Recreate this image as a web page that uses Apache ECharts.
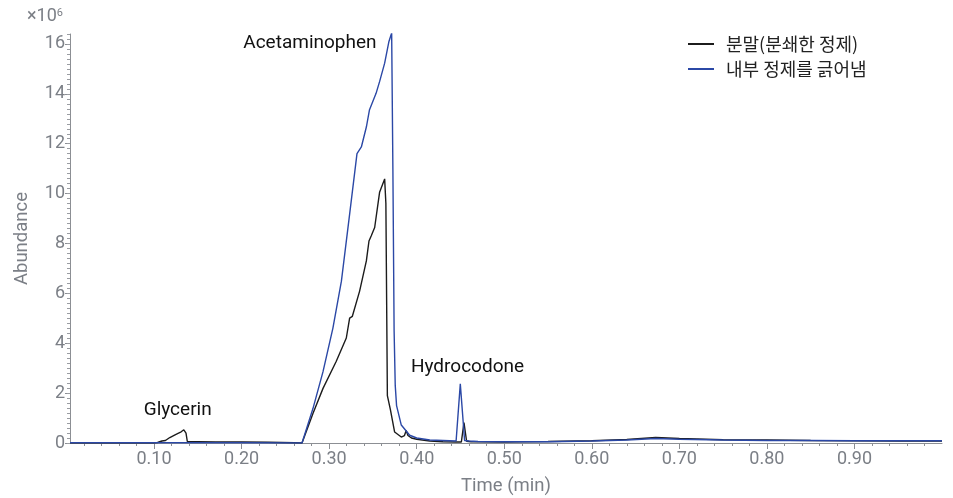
<!DOCTYPE html>
<html>
<head>
<meta charset="utf-8">
<script src="https://cdn.jsdelivr.net/npm/echarts@6/dist/echarts.min.js"></script>
<style>
  html, body { margin: 0; padding: 0; background: #fff; }
  #chart { width: 953px; height: 498px; }
</style>
</head>
<body>
<div id="chart"></div>
<script>
// values are in units of 10^6
const seriesNames = ['분말(분쇄한 정제)', '내부 정제를 긁어냄']

const powderTime = [0.004, 0.05, 0.100, 0.104, 0.109, 0.113, 0.118, 0.124, 0.128, 0.131, 0.134, 0.1365, 0.138, 0.142, 0.15, 0.17, 0.20, 0.23, 0.26,
  0.269, 0.2815, 0.293, 0.308, 0.3196, 0.3234, 0.3265, 0.3348, 0.3425, 0.3455, 0.348, 0.352, 0.3576, 0.3596, 0.3634, 0.3648, 0.3665, 0.3699, 0.3748,
  0.3824, 0.386, 0.388, 0.390, 0.394, 0.400, 0.415, 0.430, 0.445, 0.451, 0.454, 0.457, 0.462, 0.47, 0.50, 0.52, 0.55, 0.60, 0.64, 0.673, 0.70,
  0.75, 0.80, 0.85, 0.90, 0.95, 1.0]
const powderValue = [0, 0, 0, 0.02, 0.08, 0.1, 0.22, 0.33, 0.4, 0.45, 0.53, 0.4, 0.06, 0.05, 0.05, 0.04, 0.04, 0.03, 0.01,
  0, 1.18, 2.19, 3.27, 4.21, 5.01, 5.08, 6.09, 7.3, 8.1, 8.3, 8.64, 10.05, 9.99, 10.59, 9.6, 1.9, 1.35, 0.44,
  0.24, 0.3, 0.5, 0.3, 0.2, 0.15, 0.08, 0.05, 0.04, 0.04, 0.82, 0.07, 0.05, 0.05, 0.04, 0.05, 0.06, 0.09, 0.14, 0.22, 0.18,
  0.13, 0.12, 0.1, 0.09, 0.08, 0.08]

const scrapedTime = [0.004, 0.10, 0.20, 0.269, 0.2815, 0.293, 0.3043, 0.314, 0.3234, 0.3318, 0.3368, 0.3425, 0.346, 0.3536, 0.3576, 0.3634,
  0.3683, 0.3714, 0.3728, 0.3742, 0.3755, 0.377, 0.3824, 0.392, 0.40, 0.415, 0.43, 0.445, 0.4465, 0.4498, 0.4547, 0.46, 0.47, 0.50, 0.55,
  0.60, 0.64, 0.673, 0.70, 0.75, 0.80, 0.85, 0.90, 0.95, 1.0]
const scrapedValue = [0.01, 0.01, 0.01, 0, 1.38, 2.86, 4.61, 6.49, 9.18, 11.6, 11.87, 12.67, 13.35, 14.02, 14.49, 15.23,
  16.1, 16.44, 11, 4.5, 2.3, 1.5, 0.72, 0.31, 0.2, 0.12, 0.1, 0.08, 0.06, 2.37, 0.1, 0.08, 0.06, 0.05, 0.05,
  0.08, 0.12, 0.18, 0.15, 0.12, 0.1, 0.1, 0.09, 0.09, 0.09]

const xTicks = [0.1, 0.2, 0.3, 0.4, 0.5, 0.6, 0.7, 0.8, 0.9]
const yTicks = [0, 2, 4, 6, 8, 10, 12, 14, 16]

const peakNames = ['Acetaminophen', 'Glycerin', 'Hydrocodone']
const peakLabelAt = [[0.278, 16.04], [0.127, 1.32], [0.458, 3.05]]

const xMin = 0.004, xMax = 1.0, yMin = 0, yMax = 16.4

const xMinor = []
for (let i = 1; i < 50; i++) xMinor.push(+(i * 0.02).toFixed(2))
const yMinor = []
for (let i = 0; i <= 82; i++) yMinor.push(+(i * 0.2).toFixed(1))

const gray = '#7b7f86'
const font = 'Roboto, "Noto Sans CJK KR", sans-serif'

const chart = echarts.init(document.getElementById('chart'))
chart.setOption({
  animation: false,
  grid: { left: 70, right: 11, top: 34, bottom: 55, outerBoundsMode: 'none' },
  graphic: [{
    type: 'text',
    left: 27,
    top: 8,
    style: {
      text: '×10{s|6}',
      font: '18px ' + font,
      fill: gray,
      rich: { s: { fontSize: 11, verticalAlign: 'top', fill: gray, fontFamily: 'Roboto' } }
    }
  }],
  legend: {
    orient: 'vertical',
    left: 683,
    top: 30,
    icon: 'rect',
    itemWidth: 26,
    itemHeight: 2,
    itemGap: 7,
    textStyle: {
      fontSize: 18,
      lineHeight: 18,
      color: '#222',
      padding: [0, 0, 0, 7],
      fontFamily: '"Noto Sans CJK KR", sans-serif'
    },
    data: seriesNames
  },
  xAxis: [{
    type: 'value',
    min: xMin,
    max: xMax,
    name: 'Time (min)',
    nameLocation: 'middle',
    nameGap: 34,
    nameTextStyle: { color: gray, fontSize: 18.5, fontFamily: font },
    axisLine: { lineStyle: { color: '#8c8f94' } },
    axisTick: { customValues: xTicks, length: 6, lineStyle: { color: '#8c8f94' } },
    axisLabel: {
      customValues: xTicks,
      formatter: v => v.toFixed(2),
      color: gray,
      fontSize: 18,
      fontFamily: font,
      margin: 8
    },
    splitLine: { show: false }
  }, {
    type: 'value',
    min: xMin,
    max: xMax,
    position: 'bottom',
    axisLine: { show: false },
    axisTick: { customValues: xMinor, length: 3, lineStyle: { color: '#8c8f94' } },
    axisLabel: { show: false },
    splitLine: { show: false }
  }],
  yAxis: [{
    type: 'value',
    min: yMin,
    max: yMax,
    name: 'Abundance',
    nameLocation: 'middle',
    nameGap: 38,
    nameTextStyle: { color: gray, fontSize: 18.5, fontFamily: font },
    axisLine: { show: true, lineStyle: { color: '#8c8f94' } },
    axisTick: { show: true, customValues: yTicks, length: 5, lineStyle: { color: '#8c8f94' } },
    axisLabel: { customValues: yTicks, color: gray, fontSize: 18, fontFamily: font, margin: 5 },
    splitLine: { show: false }
  }, {
    type: 'value',
    min: yMin,
    max: yMax,
    position: 'left',
    axisLine: { show: false },
    axisTick: { show: true, customValues: yMinor, length: 3, lineStyle: { color: '#9a9da2' } },
    axisLabel: { show: false },
    splitLine: { show: false }
  }],
  series: [{
    name: seriesNames[0],
    type: 'line',
    symbol: 'none',
    data: powderTime.map((t, i) => [t, powderValue[i]]),
    lineStyle: { color: '#1c1c1c', width: 1.4 },
    itemStyle: { color: '#1c1c1c' },
    markPoint: {
      symbol: 'circle',
      symbolSize: 1,
      itemStyle: { color: 'rgba(0,0,0,0)' },
      label: {
        show: true,
        position: 'inside',
        formatter: p => p.name,
        color: '#111',
        fontSize: 19,
        fontFamily: font
      },
      data: peakNames.map((n, i) => ({ name: n, coord: peakLabelAt[i] }))
    }
  }, {
    name: seriesNames[1],
    type: 'line',
    symbol: 'none',
    data: scrapedTime.map((t, i) => [t, scrapedValue[i]]),
    lineStyle: { color: '#2b48a6', width: 1.4 },
    itemStyle: { color: '#2b48a6' }
  }]
})
</script>
</body>
</html>
